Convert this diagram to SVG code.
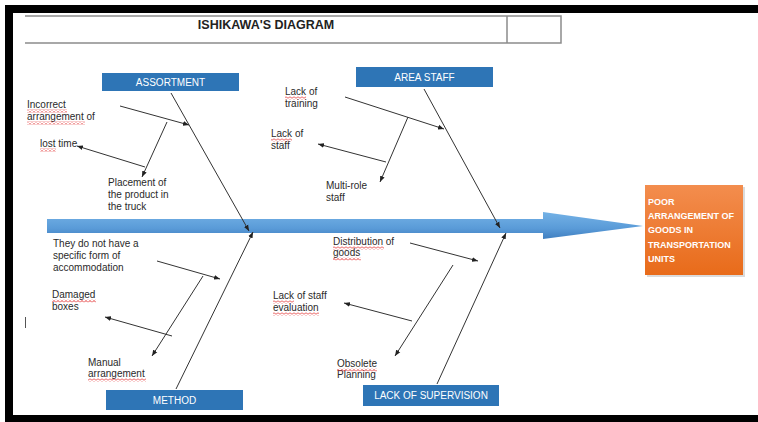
<svg xmlns="http://www.w3.org/2000/svg" width="758" height="422" viewBox="0 0 758 422">
<defs>
<linearGradient id="spineGrad" x1="0" y1="0" x2="0" y2="1">
<stop offset="0" stop-color="#74B2E6"/>
<stop offset="0.6" stop-color="#5A9BD8"/>
<stop offset="1" stop-color="#3F7FC0"/>
</linearGradient>
<linearGradient id="orangeGrad" x1="0" y1="0" x2="0" y2="1">
<stop offset="0" stop-color="#F38D4E"/>
<stop offset="1" stop-color="#E86B1A"/>
</linearGradient>
<pattern id="squiggle" x="0" y="0" width="4" height="3" patternUnits="userSpaceOnUse">
<polyline points="0,2.5 1,1.5 2,0.5 3,1.5 4,2.5" fill="none" stroke="#E02020" stroke-width="1"/>
</pattern>
<marker id="ah" viewBox="0 0 10 10" refX="10" refY="5" markerWidth="6" markerHeight="6" markerUnits="userSpaceOnUse" orient="auto">
<path d="M0,1 L10,5 L0,9 Z" fill="#222"/>
</marker>
</defs>
<style>
.frame{fill:#000}
.tbl{fill:none;stroke:#8C8C8C;stroke-width:1.5}
.title{font-family:"Liberation Sans",Arial,sans-serif;font-weight:bold;font-size:12.5px;fill:#222}
.cat rect{fill:#2E75B6}
.cat text{font-family:"Liberation Sans",Arial,sans-serif;font-size:10px;fill:#fff;text-anchor:middle}
.lbl{font-family:"Liberation Sans",Arial,sans-serif;font-size:10px;fill:#2a2a2a}
.bone{stroke:#333;stroke-width:1;fill:none;marker-end:url(#ah)}
.sub{stroke:#333;stroke-width:1;fill:none;marker-end:url(#ah)}
.sq{fill:url(#squiggle)}
.eff{font-family:"Liberation Sans",Arial,sans-serif;font-size:9px;font-weight:bold;fill:#fff}
</style>
<rect width="758" height="422" fill="#fff"/>
<g id="frame">
<rect class="frame" x="5" y="5" width="753" height="8"/>
<rect class="frame" x="5" y="5" width="8" height="417"/>
<rect class="frame" x="5" y="415" width="753" height="7"/>
</g>
<g id="title">
<path class="tbl" d="M25,16 H561 V43 H25 M507,16 V43"/>
<text class="title" x="266" y="29" text-anchor="middle">ISHIKAWA'S DIAGRAM</text>
</g>
<g id="spine">
<path d="M47,219 H543 V212 L643,226 L543,239 V233 H47 Z" fill="url(#spineGrad)"/>
</g>
<g id="effect">
<rect x="647" y="187" width="98" height="90" fill="#999" opacity="0.35"/>
<rect x="645" y="185" width="98" height="90" fill="url(#orangeGrad)"/>
<text class="eff" x="648" y="205">POOR</text>
<text class="eff" x="648" y="219">ARRANGEMENT OF</text>
<text class="eff" x="648" y="233">GOODS IN</text>
<text class="eff" x="648" y="248">TRANSPORTATION</text>
<text class="eff" x="648" y="262">UNITS</text>
</g>
<g id="assortment" class="cat">
<rect x="102" y="73" width="137" height="18"/>
<text x="170.5" y="86">ASSORTMENT</text>
</g>
<g id="area-staff" class="cat">
<rect x="356" y="67" width="137" height="20"/>
<text x="424.5" y="81">AREA STAFF</text>
</g>
<g id="method" class="cat">
<rect x="106" y="390" width="137" height="20"/>
<text x="174.5" y="404">METHOD</text>
</g>
<g id="lack-of-supervision" class="cat">
<rect x="363" y="385" width="136" height="21"/>
<text x="431" y="399">LACK OF SUPERVISION</text>
</g>
<g id="connectors">
<line class="bone" x1="171" y1="93" x2="249" y2="231"/>
<line class="bone" x1="424" y1="89" x2="500" y2="228"/>
<line class="bone" x1="176" y1="389" x2="253" y2="232"/>
<line class="bone" x1="437" y1="384" x2="506" y2="233"/>
<line class="sub" x1="120" y1="106" x2="189" y2="125"/>
<line class="sub" x1="167" y1="122" x2="142" y2="177"/>
<line class="sub" x1="145" y1="167" x2="77" y2="146"/>
<line class="sub" x1="345" y1="97" x2="444" y2="129"/>
<line class="sub" x1="408" y1="117" x2="380" y2="182"/>
<line class="sub" x1="386" y1="162" x2="318" y2="144"/>
<line class="sub" x1="157" y1="261" x2="220" y2="279"/>
<line class="sub" x1="203" y1="276" x2="152" y2="356"/>
<line class="sub" x1="172" y1="336" x2="105" y2="317"/>
<line class="sub" x1="410" y1="243" x2="478" y2="261"/>
<line class="sub" x1="453" y1="265" x2="395" y2="356"/>
<line class="sub" x1="412" y1="321" x2="344" y2="303"/>
</g>
<g id="cause-incorrect">
<text class="lbl" x="27" y="108">Incorrect</text>
<text class="lbl" x="27" y="120">arrangement of</text>
<rect class="sq" x="27" y="109.5" width="40" height="3"/>
<rect class="sq" x="27" y="121.5" width="58" height="3"/>
</g>
<g id="cause-lost-time">
<text class="lbl" x="40" y="147">lost time</text>
<rect class="sq" x="40" y="148.5" width="16" height="3"/>
</g>
<g id="cause-placement">
<text class="lbl" x="108" y="186">Placement of</text>
<text class="lbl" x="108" y="198">the product in</text>
<text class="lbl" x="108" y="210">the truck</text>
</g>
<g id="cause-lack-training">
<text class="lbl" x="285" y="95">Lack of</text>
<text class="lbl" x="285" y="107">training</text>
<rect class="sq" x="285" y="96.5" width="21" height="3"/>
</g>
<g id="cause-lack-staff">
<text class="lbl" x="271" y="137">Lack of</text>
<text class="lbl" x="271" y="149">staff</text>
<rect class="sq" x="271" y="138.5" width="21" height="3"/>
</g>
<g id="cause-multi-role">
<text class="lbl" x="326" y="189">Multi-role</text>
<text class="lbl" x="326" y="201">staff</text>
</g>
<g id="cause-accommodation">
<text class="lbl" x="53" y="247">They do not have a</text>
<text class="lbl" x="53" y="259">specific form of</text>
<text class="lbl" x="53" y="271">accommodation</text>
</g>
<g id="cause-damaged">
<text class="lbl" x="52" y="298">Damaged</text>
<text class="lbl" x="52" y="310">boxes</text>
<rect class="sq" x="52" y="299.5" width="44" height="3"/>
</g>
<g id="cause-manual">
<text class="lbl" x="88" y="366">Manual</text>
<text class="lbl" x="88" y="377">arrangement</text>
<rect class="sq" x="88" y="378.5" width="58" height="3"/>
</g>
<g id="cause-distribution">
<text class="lbl" x="333" y="245">Distribution of</text>
<text class="lbl" x="333" y="256">goods</text>
<rect class="sq" x="333" y="246.5" width="51" height="3"/>
<rect class="sq" x="333" y="257.5" width="28" height="3"/>
</g>
<g id="cause-evaluation">
<text class="lbl" x="273" y="299">Lack of staff</text>
<text class="lbl" x="273" y="311">evaluation</text>
<rect class="sq" x="273" y="300.5" width="21" height="3"/>
<rect class="sq" x="273" y="312.5" width="46" height="3"/>
</g>
<g id="cause-obsolete">
<text class="lbl" x="337" y="367">Obsolete</text>
<text class="lbl" x="337" y="378">Planning</text>
<rect class="sq" x="337" y="368.5" width="40" height="3"/>
</g>
<line x1="25.5" y1="317" x2="25.5" y2="328" stroke="#555" stroke-width="1"/>
</svg>
